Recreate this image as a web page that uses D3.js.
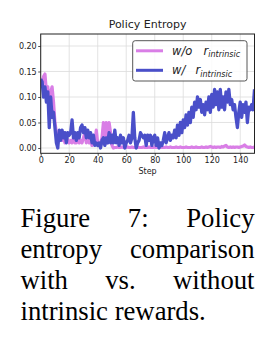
<!DOCTYPE html>
<html><head><meta charset="utf-8">
<script src="https://cdn.jsdelivr.net/npm/d3@7"></script>
<style>html,body{margin:0;padding:0;background:#fff;}svg{display:block;}</style>
</head><body>
<svg id="c" width="273" height="341"></svg>
<script>
const title = "Policy Entropy";
const xLabel = "Step";
const xTicks = [0,20,40,60,80,100,120,140];
const yTicks = [0.00,0.05,0.10,0.15,0.20];
const seriesNames = ["w/o", "w/"];
const woIntrinsic = [0.12,0.13,0.14,0.145,0.11,0.12,0.075,0.11,0.12,0.09,
0.05,0.03,0.01,0.02,0.03,0.015,0.02,0.01,0.02,0.015,
0.01,0.015,0.01,0.02,0.01,0.01,0.02,0.01,0.015,0.01,
0.02,0.03,0.01,0.02,0.01,0.015,0.005,0.015,0.01,0.035,
0.01,0.005,0.01,0.02,0.05,0.02,0.05,0.01,0.05,0.03,
0.005,0.0,
0.001,0.001,0.002,0.001,0.001,0.002,0.001,0.001,0.001,0.002,
0.001,0.001,0.002,0.001,0.001,0.001,0.002,0.001,0.001,0.001,
0.002,0.001,0.001,0.001,0.002,0.001,0.001,0.001,0.002,0.001,
0.001,0.001,0.002,0.001,0.001,0.001,0.002,0.001,0.001,0.002,
0.001,0.001,0.001,0.002,0.001,0.001,0.002,0.001,0.001,0.001,
0.002,0.001,0.001,0.001,0.002,0.001,0.001,0.002,0.001,0.001,
0.001,0.002,0.001,0.001,0.002,0.001,0.002,0.003,0.002,0.001,
0.002,0.001,0.002,0.002,0.001,0.003,0.002,0.004,0.005,0.002,
0.001,0.002,0.001,0.002,0.001,0.002,0.002,0.001,0.002,0.003,
0.004,0.006,0.003,0.002,0.001,0.002,0.001,0.001,0.002];
const wIntrinsic = [0.135,0.13,0.10,0.12,0.09,0.11,0.04,0.10,0.06,0.07,
0.04,0.01,0.0,0.035,0.015,0.035,0.02,0.03,0.01,0.03,
0.025,0.03,0.055,0.02,0.03,0.015,0.03,0.02,0.04,0.045,
0.03,0.04,0.02,0.035,0.02,0.03,0.01,0.025,0.005,0.01,
0.005,0.01,0.0,0.015,0.02,0.005,0.02,0.01,0.03,0.01,
0.025,0.01,0.035,0.01,0.02,0.005,0.025,0.01,0.02,0.0,
0.01,0.015,0.025,0.01,0.02,0.07,0.02,0.0,0.01,0.015,
0.03,0.025,0.02,0.025,0.005,0.025,0.015,0.025,0.005,0.02,
0.025,0.005,0.02,0.0,0.01,0.005,0.015,0.03,0.01,0.02,
0.03,0.015,0.025,0.02,0.035,0.02,0.045,0.025,0.05,0.03,
0.055,0.04,0.065,0.045,0.07,0.05,0.08,0.06,0.09,0.075,
0.1,0.08,0.095,0.07,0.085,0.065,0.09,0.075,0.1,0.07,
0.105,0.08,0.115,0.085,0.11,0.075,0.115,0.08,0.1,0.075,
0.11,0.09,0.115,0.085,0.095,0.075,0.085,0.06,0.04,0.07,
0.09,0.06,0.085,0.07,0.09,0.05,0.08,0.075,0.085,0.075,
0.115];
const captionLines = [["Figure","7:","Policy"],["entropy","comparison"],["with","vs.","without"],["intrinsic rewards."]];

const svg = d3.select("#c");
const L = 40.7, R = 254.5, T = 34, B = 153.3;
const x = d3.scaleLinear().domain([0,150]).range([L,R]);
const y = d3.scaleLinear().domain([-0.0104,0.2235]).range([B,T]);
const font = "'DejaVu Sans', sans-serif";

// grid
const g = svg.append("g");
g.selectAll(".gx").data(xTicks).join("line")
  .attr("x1",d=>x(d)).attr("x2",d=>x(d)).attr("y1",T).attr("y2",B)
  .attr("stroke","#dcdcdc").attr("stroke-width",0.8);
g.selectAll(".gy").data(yTicks).join("line")
  .attr("x1",L).attr("x2",R).attr("y1",d=>y(d)).attr("y2",d=>y(d))
  .attr("stroke","#dcdcdc").attr("stroke-width",0.8);

svg.append("clipPath").attr("id","clip").append("rect")
  .attr("x",L).attr("y",T).attr("width",R-L).attr("height",B-T);

const line = d3.line().x((d,i)=>x(i)).y(d=>y(d));
const colors = ["#d97ee6","#4a4fc9"];
const plot = svg.append("g").attr("clip-path","url(#clip)");
plot.append("path").datum(woIntrinsic).attr("d",line).attr("fill","none")
  .attr("stroke",colors[0]).attr("stroke-width",3.2).attr("stroke-linejoin","round");
plot.append("path").datum(wIntrinsic).attr("d",line).attr("fill","none")
  .attr("stroke",colors[1]).attr("stroke-width",3.3).attr("stroke-linejoin","round");

// axes
const xa = svg.append("g").attr("transform",`translate(0,${B})`)
  .call(d3.axisBottom(x).tickValues(xTicks).tickSize(2.5).tickPadding(1.5).tickFormat(d3.format("d")));
const ya = svg.append("g").attr("transform",`translate(${L},0)`)
  .call(d3.axisLeft(y).tickValues(yTicks).tickSize(2.5).tickPadding(1.5).tickFormat(d3.format(".2f")));
[xa,ya].forEach(a=>{
  a.select(".domain").remove();
  a.selectAll("text").attr("font-family",font).attr("font-size",8).attr("fill","#222");
  a.selectAll("line").attr("stroke","#222").attr("stroke-width",0.8);
});
svg.append("rect").attr("x",L).attr("y",T).attr("width",R-L).attr("height",B-T)
  .attr("fill","none").attr("stroke","#222").attr("stroke-width",1);

svg.append("text").attr("x",(L+R)/2).attr("y",28).attr("text-anchor","middle")
  .attr("font-family",font).attr("font-size",11).attr("fill","#222").text(title);
svg.append("text").attr("x",(L+R)/2).attr("y",174).attr("text-anchor","middle")
  .attr("font-family",font).attr("font-size",8).attr("fill","#222").text(xLabel);

// legend
const lg = svg.append("g");
lg.append("rect").attr("x",132.7).attr("y",40.7).attr("width",114.3).attr("height",40.3)
  .attr("rx",2.5).attr("fill","#fff").attr("fill-opacity",0.85).attr("stroke","#444").attr("stroke-width",0.9);
const rows = [{y:50.8, rx:203.5},{y:70.3, rx:195.5}];
seriesNames.forEach((n,i)=>{
  lg.append("line").attr("x1",136).attr("x2",163).attr("y1",rows[i].y).attr("y2",rows[i].y)
    .attr("stroke",colors[i]).attr("stroke-width",3);
  const t = lg.append("text").attr("font-family",font).attr("font-size",11.5).attr("fill","#222")
    .attr("font-style","italic").attr("y",rows[i].y+4);
  t.append("tspan").attr("x",172).text(n);
  t.append("tspan").attr("x",rows[i].rx).text("r");
  t.append("tspan").attr("font-size",8).attr("dy",2.5).text("intrinsic");
});

// caption
const cap = svg.append("g");
const capL = 20.5, capR = 254.5;
const baselines = [227,258,289,320];
captionLines.forEach((words,li)=>{
  const nodes = words.map(w=>cap.append("text").attr("font-family","'Liberation Serif','Times New Roman',serif")
    .attr("font-size",26.7).attr("fill","#000").attr("y",baselines[li]).text(w));
  if (li === captionLines.length-1) { nodes[0].attr("x",capL); return; }
  const widths = nodes.map(n=>n.node().getComputedTextLength());
  const gap = (capR-capL-d3.sum(widths))/(words.length-1);
  let cx = capL;
  nodes.forEach((n,k)=>{ n.attr("x",cx); cx += widths[k]+gap; });
});
</script>
</body></html>
